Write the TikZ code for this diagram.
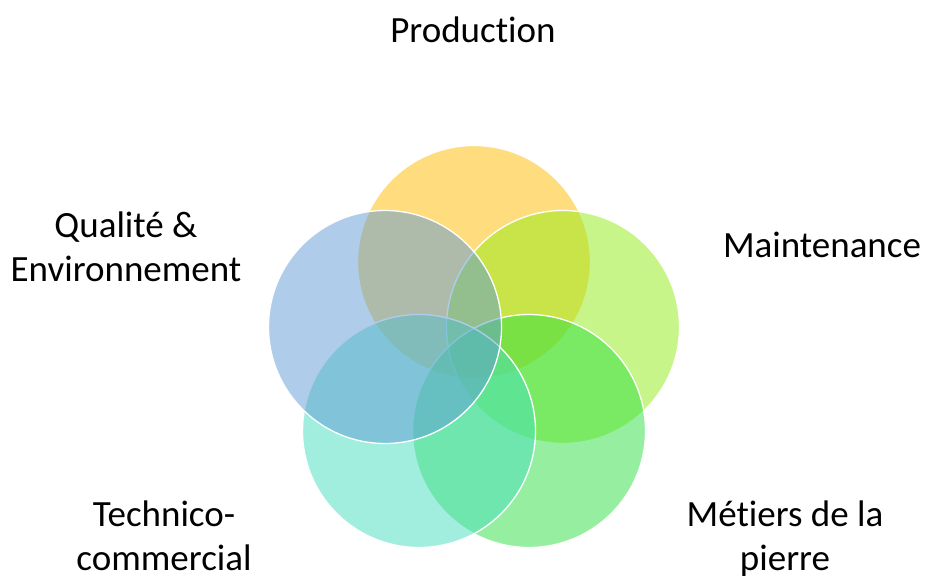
\documentclass[tikz,border=0pt]{standalone}
\usepackage{fontspec}
\setmainfont{Carlito}[Ligatures=NoCommon]
\usepackage{tikz}

\definecolor{prodcol}{RGB}{255,187,0}
\definecolor{maintcol}{RGB}{146,235,20}
\definecolor{pierrecol}{RGB}{46,224,66}
\definecolor{techcol}{RGB}{70,222,190}
\definecolor{qualcol}{RGB}{96,155,214}

\tikzset{
  venn/.style={circle,minimum size=233pt,inner sep=0pt,draw=white,line width=1.3pt,fill opacity=0.5},
  lbl/.style={font=\fontsize{37}{44}\selectfont,align=center,inner sep=0pt}
}

\begin{document}
\begin{tikzpicture}[x=1pt,y=-1pt]
\useasboundingbox (0,0) rectangle (925,577);
% circles, drawn in this order
\node [venn,fill=prodcol] (cprod) at (474,262) {};
\node [venn,fill=maintcol] (cmaint) at (563,327) {};
\node [venn,fill=pierrecol] (cpierre) at (529,431) {};
\node [venn,fill=techcol] (ctech) at (419,431) {};
\node [venn,fill=qualcol] (cqual) at (385,327) {};
% labels
\node [lbl,anchor=base] (prod) at (473,43) {Production};
\node [lbl,anchor=base] (maint) at (822,257) {Maintenance};
\node [lbl] (qual) at (126,247) {Qualité \&\\Environnement};
\node [lbl] (tech) at (164,536) {Technico-\\commercial};
\node [lbl] (pierre) at (785,539) {Métiers de la\\pierre};
\end{tikzpicture}
\end{document}
